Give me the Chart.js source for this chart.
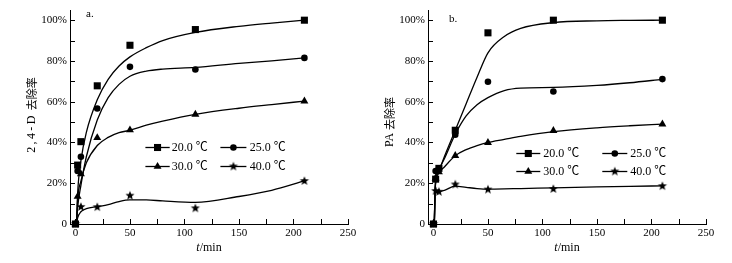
<!DOCTYPE html>
<html>
<head>
<meta charset="utf-8">
<script src="https://cdn.jsdelivr.net/npm/chart.js@4.4.1/dist/chart.umd.min.js"></script>
<style>
  html, body { margin: 0; padding: 0; background: #fff; }
  body { width: 732px; height: 263px; position: relative; overflow: hidden; }
  .panel { position: absolute; top: 0; width: 366px; height: 263px; }
</style>
</head>
<body>
<div class="panel" style="left:0px"><canvas id="chartA" width="366" height="263"></canvas></div>
<div class="panel" style="left:357.7px"><canvas id="chartB" width="366" height="263"></canvas></div>
<script>
// temps de prélèvement (min)
const times = [0, 2, 5, 20, 50, 110, 210];
const seriesLabels = ["20.0 ℃", "25.0 ℃", "30.0 ℃", "40.0 ℃"];
const xTicks = [0, 50, 100, 150, 200, 250];
const yTicks = [0, 20, 40, 60, 80, 100];

// a. 2,4-D : points mesurés (%)
const a20 = [0, 28.9, 40.4, 67.8, 87.7, 95.4, 100];
const a25 = [0, 26.0, 33.0, 56.7, 77.1, 75.8, 81.5];
const a30 = [0, 13.5, 24.5, 42.3, 46.1, 53.8, 60.3];
const a40 = [0, null, 8.4, 8.3, 13.9, 7.7, 21.1];
// a. courbes ajustées
const curveTA = [1, 2, 5, 10, 20, 30, 40, 50, 65, 80, 110, 150, 180, 210];
const a20c = [0, 15, 31, 45, 61, 71, 77.5, 82, 86.5, 90, 94, 97, 98.6, 100];
const a25c = [0, 8, 19, 33, 51, 62, 68.5, 72.5, 75, 76, 76.8, 78.8, 80, 81.5];
const a30c = [0, 12, 21, 30, 38.5, 42.5, 44.8, 46, 48.5, 50.5, 53.8, 56.8, 58.6, 60.3];
const a40c = [0, 3, 6, 7.5, 8.5, 9.5, 11, 11.8, 11.8, 11.3, 10.6, 13.5, 16.5, 21.1];

// b. PA : points mesurés (%)
const b20 = [0, 22.0, 27.3, 46.0, 93.8, 100, 100];
const b25 = [0, 26.0, 27.0, 43.8, 69.8, 65.0, 71.1];
const b30 = [0, 22.5, 25.5, 33.5, 39.9, 45.8, 49.0];
const b40 = [0, 16.2, 15.8, 19.4, 16.9, 17.2, 18.6];
// b. courbes ajustées
const curveTB = [0.8, 1.5, 2, 5, 10, 20, 30, 40, 50, 65, 80, 110, 150, 180, 210];
const b20c = [0, 16, 21, 26, 33, 46, 59, 72, 84, 92, 96, 98.8, 99.7, 99.9, 100];
const b25c = [0, 16, 21, 26.5, 32, 44, 53, 58.5, 62, 65.5, 66.7, 67, 68, 69.3, 71];
const b30c = [0, 16, 20, 25, 28, 33.5, 36.5, 38.5, 40, 41.5, 43, 45.3, 47.2, 48.2, 49];
const b40c = [0, 15.5, 16, 16, 16.5, 18.6, 18, 17.4, 17.1, 17.2, 17.4, 17.7, 18.2, 18.5, 18.7];

const SERIF = "'Liberation Serif', 'Times New Roman', 'Noto Sans CJK SC', serif";
const CJK = "'Noto Sans CJK SC', sans-serif";

function starImage(r) {
  const c = document.createElement("canvas");
  const s = Math.ceil(r * 2) + 2;
  c.width = s; c.height = s;
  const g = c.getContext("2d");
  g.fillStyle = "#000";
  g.beginPath();
  for (let k = 0; k < 10; k++) {
    const rad = k % 2 ? r * 0.42 : r;
    const ang = -Math.PI / 2 + k * Math.PI / 5;
    g.lineTo(s / 2 + rad * Math.cos(ang), s / 2 + rad * Math.sin(ang));
  }
  g.closePath();
  g.fill();
  return c;
}

const star = starImage(4.8);
const styles = ["rect", "circle", "triangle", star];
const radii = [5, 3.3, 4.6, 4.8];

function drawMarker(ctx, i, x, y) {
  const r = radii[i];
  ctx.save();
  ctx.fillStyle = "#000";
  ctx.beginPath();
  if (i === 0) {
    const s = r * Math.SQRT1_2;
    ctx.rect(x - s, y - s, 2 * s, 2 * s);
    ctx.fill();
  } else if (i === 1) {
    ctx.arc(x, y, r, 0, Math.PI * 2);
    ctx.fill();
  } else if (i === 2) {
    ctx.moveTo(x, y - r);
    ctx.lineTo(x + 0.866 * r, y + 0.5 * r);
    ctx.lineTo(x - 0.866 * r, y + 0.5 * r);
    ctx.closePath();
    ctx.fill();
  } else {
    ctx.drawImage(star, x - star.width / 2, y - star.height / 2);
  }
  ctx.restore();
}

// titre vertical en plusieurs morceaux (latin espacé + chinois)
function drawYTitle(ctx, parts, cx, cy) {
  ctx.save();
  ctx.translate(cx, cy);
  ctx.rotate(-Math.PI / 2);
  ctx.textBaseline = "middle";
  ctx.textAlign = "left";
  let total = 0;
  const widths = parts.map((p) => {
    ctx.font = p.font;
    ctx.letterSpacing = (p.ls || 0) + "px";
    const w = ctx.measureText(p.t).width;
    total += w;
    return w;
  });
  let x = -total / 2;
  parts.forEach((p, k) => {
    ctx.font = p.font;
    ctx.letterSpacing = (p.ls || 0) + "px";
    ctx.fillText(p.t, x, 0);
    x += widths[k];
  });
  ctx.restore();
}

// axes à graduations intérieures, titres, lettre du panneau, légende
const decor = {
  id: "decor",
  afterDraw(chart, args, opts) {
    const ctx = chart.ctx;
    const xs = chart.scales.x, ys = chart.scales.y;
    const area = chart.chartArea;
    ctx.save();
    ctx.strokeStyle = "#000";
    ctx.fillStyle = "#000";
    ctx.lineWidth = 1;
    ctx.beginPath();
    for (let v = 0; v <= 250; v += 25) {
      const px = Math.round(xs.getPixelForValue(v)) + 0.5;
      ctx.moveTo(px, area.bottom);
      ctx.lineTo(px, area.bottom - 5);
    }
    for (let v = 10; v <= 100; v += 10) {
      const py = Math.round(ys.getPixelForValue(v)) + 0.5;
      ctx.moveTo(area.left, py);
      ctx.lineTo(area.left + 5, py);
    }
    ctx.stroke();

    // titre de l'axe x : "t" en italique
    ctx.textBaseline = "middle";
    const it = "italic 12px " + SERIF, rm = "12px " + SERIF;
    ctx.font = it; const w1 = ctx.measureText("t").width;
    ctx.font = rm; const w2 = ctx.measureText("/min").width;
    const cx = (area.left + area.right) / 2 - (w1 + w2) / 2;
    ctx.textAlign = "left";
    ctx.font = it; ctx.fillText("t", cx, 248);
    ctx.font = rm; ctx.fillText("/min", cx + w1, 248);

    // titre de l'axe y
    drawYTitle(ctx, opts.yTitle, opts.yTitleX, opts.yTitleY);

    // lettre du panneau
    ctx.font = "11px " + SERIF;
    ctx.textBaseline = "alphabetic";
    ctx.fillText(opts.tag, area.left + opts.tagX, opts.tagY);

    // légende
    const L = opts.legend;
    ctx.font = "12px " + SERIF;
    ctx.textBaseline = "middle";
    seriesLabels.forEach((lab, i) => {
      const col = L.cols[i % 2];
      const y = Math.round(area.top + L.rows[Math.floor(i / 2)]) + 0.5;
      const x1 = area.left + col[0], x2 = area.left + col[1];
      ctx.lineWidth = 1.3;
      ctx.beginPath();
      ctx.moveTo(x1, y);
      ctx.lineTo(x2, y);
      ctx.stroke();
      drawMarker(ctx, i, (x1 + x2) / 2, y);
      ctx.fillText(lab, area.left + col[2], y + 0.5);
    });
    ctx.restore();
  }
};

function panel(id, yTitle, yTitleX, yTitleY, tag, tagX, tagY, marks, curveT, curves, legend) {
  const datasets = [];
  curves.forEach((c) => {
    datasets.push({
      data: curveT.map((t, k) => ({ x: t, y: c[k] })),
      showLine: true,
      borderColor: "#000",
      borderWidth: 1.3,
      pointRadius: 0,
      cubicInterpolationMode: "monotone",
      clip: false
    });
  });
  marks.forEach((m, i) => {
    datasets.push({
      data: times.map((t, k) => ({ x: t, y: m[k] })).filter((p) => p.y !== null),
      showLine: false,
      pointStyle: styles[i],
      pointRadius: radii[i],
      backgroundColor: "#000",
      borderColor: "#000",
      borderWidth: 0,
      clip: false
    });
  });

  return new Chart(document.getElementById(id), {
    type: "scatter",
    data: { datasets },
    options: {
      responsive: false,
      animation: false,
      events: [],
      layout: { padding: { left: 0, right: 18, top: 10, bottom: 0 } },
      plugins: {
        legend: { display: false },
        tooltip: { enabled: false },
        decor: { tag, tagX, tagY, legend, yTitle, yTitleX, yTitleY }
      },
      scales: {
        x: {
          type: "linear",
          min: -5,
          max: 250,
          afterBuildTicks: (s) => { s.ticks = xTicks.map((v) => ({ value: v })); },
          afterFit: (s) => { s.height = 39; },
          ticks: { color: "#000", font: { family: SERIF, size: 11 }, padding: 3, maxRotation: 0, autoSkip: false },
          grid: { display: false, drawTicks: false },
          border: { display: true, color: "#000", width: 1 }
        },
        y: {
          min: 0,
          max: 105,
          afterBuildTicks: (s) => { s.ticks = yTicks.map((v) => ({ value: v })); },
          afterFit: (s) => { s.width = 70; },
          ticks: {
            color: "#000",
            font: { family: SERIF, size: 11 },
            padding: 3,
            callback: (v) => (v === 0 ? "0" : v + "%")
          },
          grid: { display: false, drawTicks: false },
          border: { display: true, color: "#000", width: 1 }
        }
      }
    },
    plugins: [decor]
  });
}

panel("chartA",
  [{ t: "2,4-D", font: "12px " + SERIF, ls: 2.4 }, { t: " ", font: "12px " + SERIF }, { t: "去除率", font: "11px " + CJK }],
  31.5, 115, "a.", 16, 17,
  [a20, a25, a30, a40], curveTA, [a20c, a25c, a30c, a40c],
  { rows: [137, 156], cols: [[75.4, 99.7, 101.7], [150.4, 176.4, 179.7]] });

panel("chartB",
  [{ t: "PA", font: "12px " + SERIF }, { t: " ", font: "12px " + SERIF }, { t: "去除率", font: "11px " + CJK }],
  32.3, 122, "b.", 21, 22,
  [b20, b25, b30, b40], curveTB, [b20c, b25c, b30c, b40c],
  { rows: [143, 161], cols: [[88.3, 112.3, 115.3], [174.3, 199.3, 202.3]] });
</script>
</body>
</html>
